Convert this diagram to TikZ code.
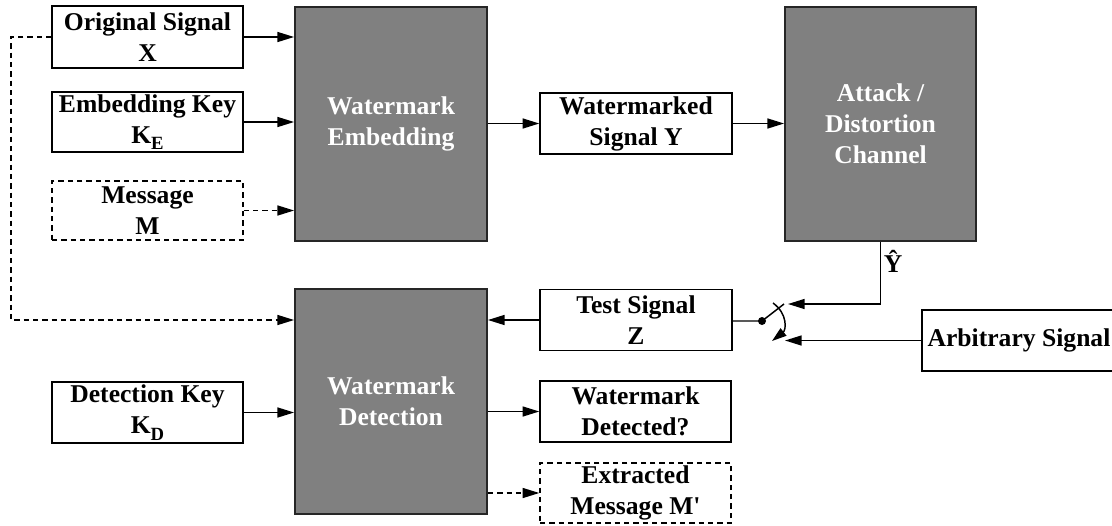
\documentclass[tikz,border=0pt]{standalone}
\usepackage{fontspec}
\setmainfont{Liberation Serif}
\newfontfamily\rawserif{Liberation Serif}
\usetikzlibrary{arrows.meta,calc}
\begin{document}
\begin{tikzpicture}[x=0.75pt,y=-0.75pt,
  font=\fontsize{19.2}{23.25}\selectfont\bfseries,
  box/.style={draw=black, line width=1.1pt, fill=white, align=center, inner sep=0pt},
  dbox/.style={box, dashed, dash pattern=on 4pt off 3pt},
  dark/.style={draw=black!85, line width=1.4pt, fill=black!50, text=white, align=center, inner sep=0pt},
  arr/.style={line width=1.1pt, -{Triangle[length=12.5pt,width=7.5pt]}},
  darr/.style={arr, dash pattern=on 4pt off 3pt}]
\newcommand\lowsub[1]{\raisebox{-0.25em}{\fontsize{14}{14}\selectfont #1}}
\useasboundingbox (0,0) rectangle (1112,525);

% input blocks
\node[box, minimum width=191*0.75pt, minimum height=62*0.75pt] (orig) at (147.5,37) {Original Signal\\X};
\node[box, minimum width=191*0.75pt, minimum height=60*0.75pt] (ekey) at (147.5,122) {Embedding Key\\K\lowsub{E}};
\node[dbox, minimum width=191*0.75pt, minimum height=59*0.75pt] (msg) at (147.5,210.5) {Message\\M};
\node[box, minimum width=191*0.75pt, minimum height=61*0.75pt] (dkey) at (147.5,412.5) {Detection Key\\K\lowsub{D}};

% processing blocks
\node[dark, minimum width=192*0.75pt, minimum height=234*0.75pt] (embed) at (391,124) {Watermark\\Embedding};
\node[dark, minimum width=191*0.75pt, minimum height=234*0.75pt] (attack) at (880.5,124) {Attack /\\Distortion\\Channel};
\node[dark, minimum width=192*0.75pt, minimum height=225*0.75pt] (detect) at (391,401.5) {Watermark\\Detection};

% signal blocks
\node[box, minimum width=192*0.75pt, minimum height=61*0.75pt] (wsig) at (636,123.5) {Watermarked\\Signal Y};
\node[box, minimum width=192*0.75pt, minimum height=61*0.75pt] (test) at (636,320) {Test Signal\\Z};
\node[box, minimum width=191*0.75pt, minimum height=61*0.75pt] (wdet) at (635.5,411.5) {Watermark\\Detected?};
\node[dbox, minimum width=191*0.75pt, minimum height=60*0.75pt] (extr) at (635.5,493) {Extracted\\Message M{\rawserif\bfseries '}};
\node[box, minimum width=194*0.75pt, minimum height=61*0.75pt] (arb) at (1019,340.5) {Arbitrary Signal};

% switch
\node[circle, fill=black, inner sep=0pt, minimum size=6pt] (pivot) at (762,321) {};
\coordinate (lever) at (784,304);
\coordinate (arcA) at (773,303);
\coordinate (arcB) at (772,341);
\coordinate (swtop) at (788,304);
\coordinate (swbot) at (785,340.5);
\coordinate (fbx) at (11,35);

% embedding side
\draw[arr] (orig.east) -- (orig.east -| embed.west);
\draw[arr] (ekey) -- (ekey -| embed.west);
\draw[darr] (msg) -- (msg -| embed.west);
\draw[arr] (embed.east |- wsig) -- (wsig);
\draw[arr] (wsig) -- (wsig -| attack.west);

% channel output and switch
\draw[arr] (attack.south) |- (swtop);
\node (yhat) at (893,261) {Ŷ};
\draw[arr] (arb) -- (swbot);
\draw[line width=1.1pt] (test.east |- pivot) -- (pivot.center) -- (lever);
\draw[line width=1.1pt, -{Triangle[length=11pt,width=7pt]}] (arcA) .. controls (788,314) and (786,330) .. (arcB);

% detection side
\draw[arr] (test) -- (test -| detect.east);
\draw[darr] (orig.west) -- (orig.west -| fbx) |- (detect.west |- test);
\draw[arr] (dkey) -- (dkey -| detect.west);
\draw[arr] (detect.east |- wdet) -- (wdet);
\draw[darr] (detect.east |- extr) -- (extr);
\end{tikzpicture}
\end{document}
